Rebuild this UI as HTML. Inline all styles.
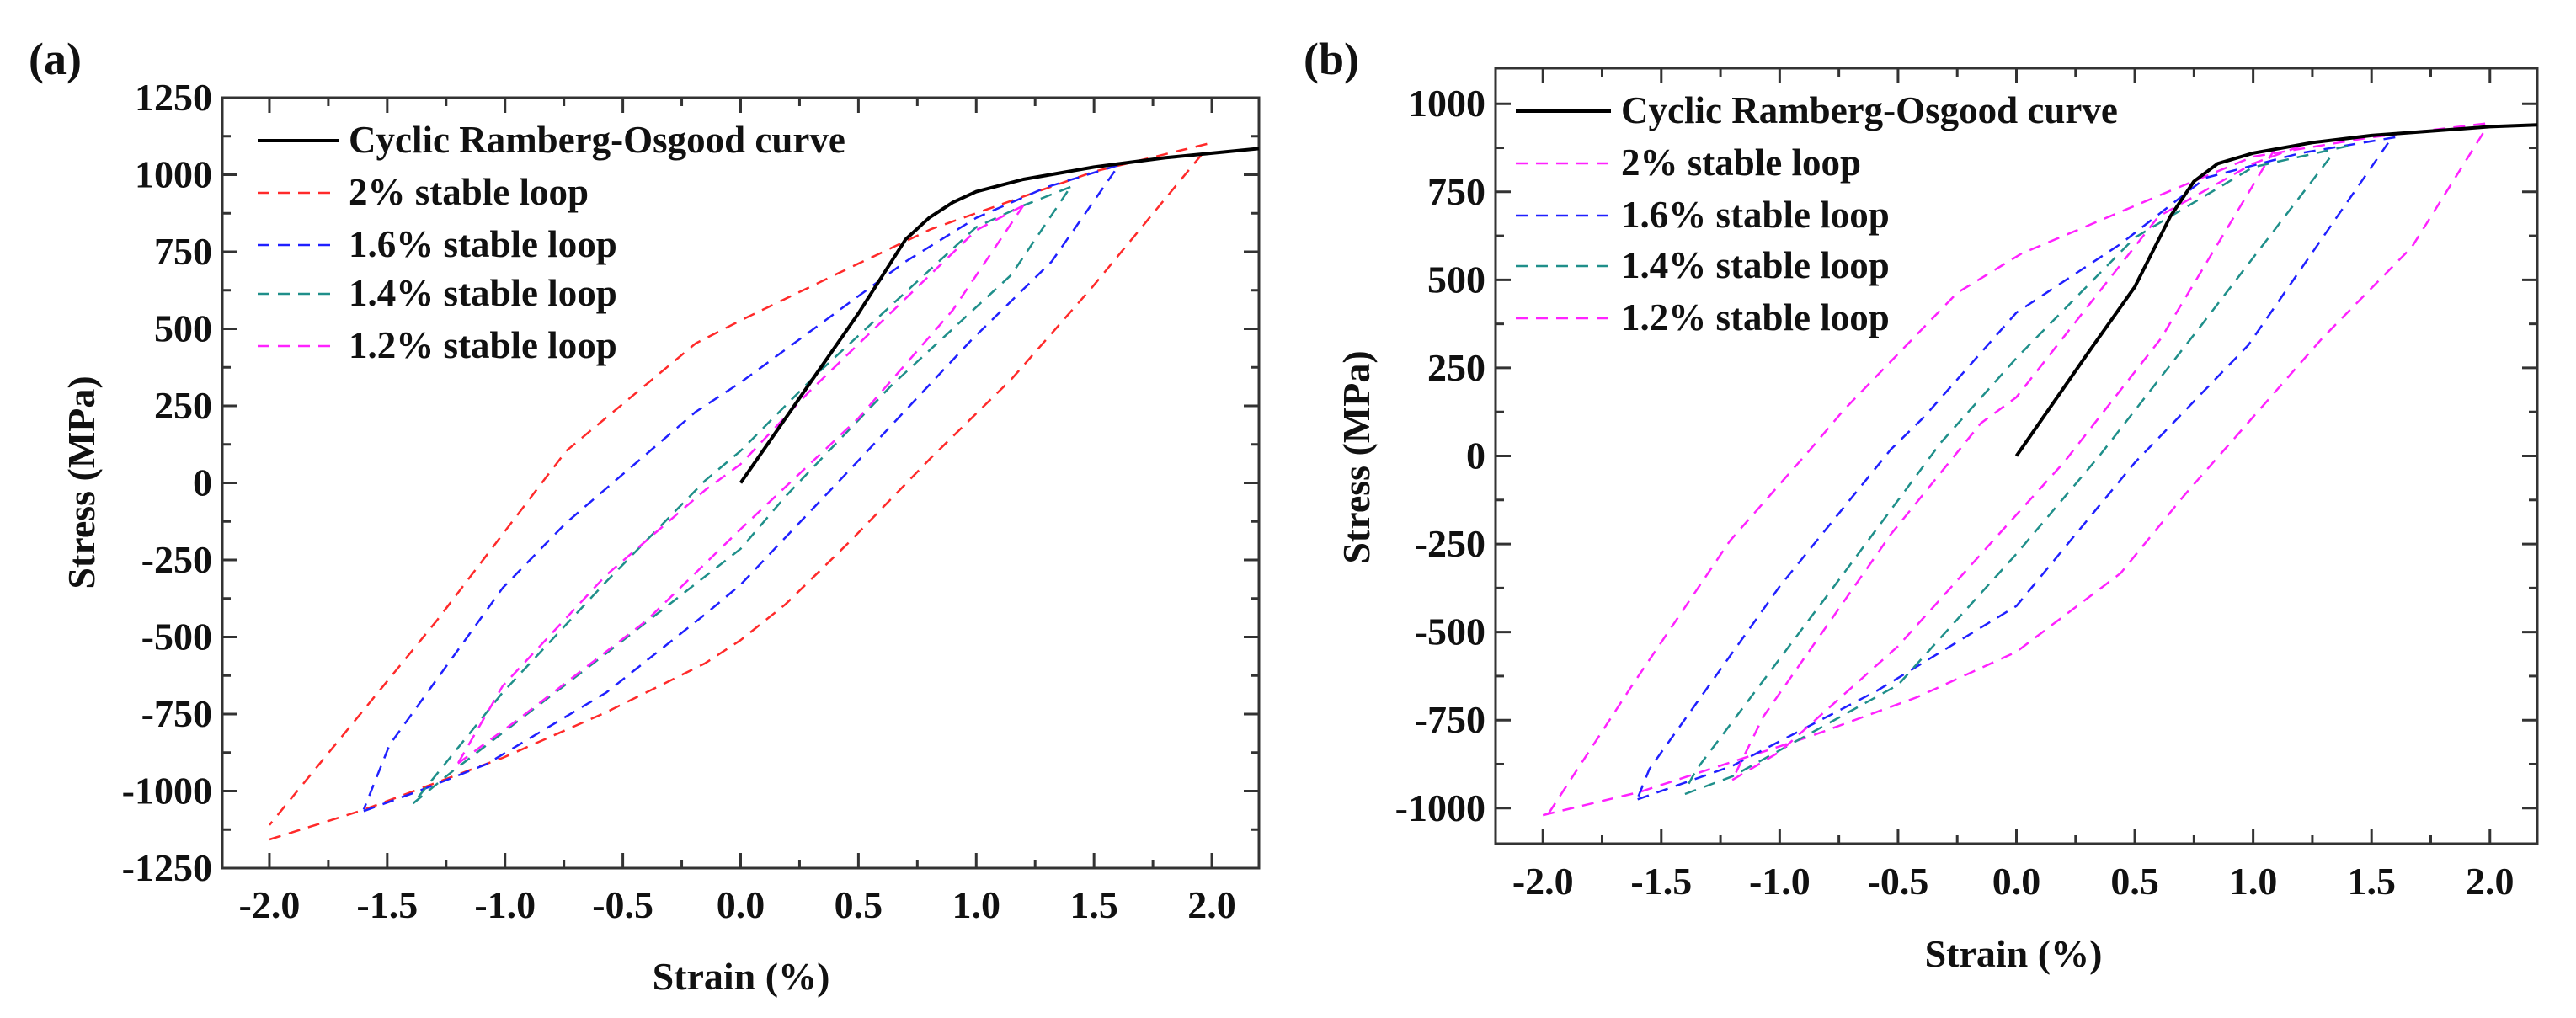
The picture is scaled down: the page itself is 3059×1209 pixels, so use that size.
<!DOCTYPE html>
<html><head><meta charset="utf-8"><style>
html,body{margin:0;padding:0;background:#fff;width:3059px;height:1209px;overflow:hidden}
svg text{font-family:"Liberation Serif",serif;font-weight:bold;fill:#111}
</style></head><body>
<svg id="fig" width="3059" height="1209" xmlns="http://www.w3.org/2000/svg"></svg>
<script>
// ---------- Panel (a) data ----------
const aCurveX=[0,0.3,0.5,0.7,0.8,0.9,1.0,1.2,1.5,1.8,2.2];
const aCurveY=[0,330,550,790,860,910,945,985,1025,1055,1085];
const a2UpX=[1.98,1.5,0.81,0.46,0,-0.19,-0.74,-1.29,-2.0];
const a2UpY=[1100,1010,824,697,527,453,104,-447,-1110];
const a2LoX=[-2,-1.6,-1.01,-0.57,-0.15,0,0.19,0.46,0.81,1.15,1.49,1.97];
const a2LoY=[-1157,-1061,-892,-744,-585,-510,-394,-193,83,337,633,1078];
const a16UpX=[1.6,1.3,1.0,0.7,0,-0.19,-0.74,-1.01,-1.49,-1.6];
const a16UpY=[1030,960,860,718,326,231,-129,-341,-850,-1060];
const a16LoX=[-1.6,-1.36,-1.08,-0.57,-0.15,0,0.46,0.98,1.32,1.6];
const a16LoY=[-1065,-998,-913,-680,-426,-330,40,464,718,1025];
const a14UpX=[1.4,1.2,1.0,0.33,0,-0.15,-0.57,-1.01,-1.39];
const a14UpY=[960,900,830,358,104,8,-320,-680,-1040];
const a14LoX=[-1.39,-1.22,-0.57,0,0.19,0.64,1.15,1.4];
const a14LoY=[-1040,-934,-553,-214,-44,316,676,960];
const a12UpX=[1.2,1.0,0.29,0,-0.15,-0.57,-1.01,-1.2];
const a12UpY=[900,820,295,61,-23,-299,-659,-910];
const a12LoX=[-1.2,-0.94,-0.4,0,0.5,0.9,1.2];
const a12LoY=[-910,-765,-447,-150,210,560,900];
// ---------- Panel (b) data ----------
const bCurveX=[0,0.3,0.5,0.65,0.75,0.85,1.0,1.25,1.5,2.0,2.2];
const bCurveY=[0,290,480,680,780,830,860,890,910,935,940];
const b2UpX=[1.98,1.5,1.0,0.64,0.02,-0.25,-0.73,-0.87,-1.21,-1.62,-1.98];
const b2UpY=[944,905,850,750,574,463,130,19,-241,-648,-1019];
const b2LoX=[-2,-1.59,-0.87,-0.42,0,0.44,0.71,0.88,1.29,1.67,1.98];
const b2LoY=[-1020,-954,-796,-685,-556,-333,-111,19,333,593,926];
const b16UpX=[1.6,1.2,0.8,0.44,0,-0.39,-0.53,-1.0,-1.55,-1.6];
const b16UpY=[905,860,790,602,407,111,19,-370,-889,-972];
const b16LoX=[-1.6,-1.2,-0.59,0,0.5,0.98,1.57];
const b16LoY=[-975,-880,-667,-426,-19,315,889];
const b14UpX=[1.4,1.0,0.5,0,-0.32,-0.77,-1.35,-1.4];
const b14UpY=[880,820,620,278,37,-370,-889,-950];
const b14LoX=[-1.4,-1.2,-0.5,0,0.35,0.78,1.33];
const b14LoY=[-960,-910,-650,-278,0,370,852];
const b12UpX=[1.2,1.0,0.6,0,-0.15,-0.53,-1.07,-1.2];
const b12UpY=[880,830,680,167,93,-222,-741,-920];
const b12LoX=[-1.2,-1.0,-0.5,0,0.2,0.61,1.09];
const b12LoY=[-920,-840,-540,-167,-19,333,870];
const xTickLabels=["-2.0","-1.5","-1.0","-0.5","0.0","0.5","1.0","1.5","2.0"];
const aYTicks=[-1250,-1000,-750,-500,-250,0,250,500,750,1000,1250];
const bYTicks=[-1000,-750,-500,-250,0,250,500,750,1000];
const legendLabels=["Cyclic Ramberg-Osgood curve","2% stable loop","1.6% stable loop","1.4% stable loop","1.2% stable loop"];

const NS="http://www.w3.org/2000/svg";
const svg=document.getElementById('fig');
function mk(tag,attrs,parent){const e=document.createElementNS(NS,tag);for(const k in attrs)e.setAttribute(k,attrs[k]);(parent||svg).appendChild(e);return e;}

function panel(cfg){
  const g=mk('g',{});
  
  
  const sx=v=>cfg.x0+(v-cfg.xmin)/(cfg.xmax-cfg.xmin)*(cfg.x1-cfg.x0);
  const sy=v=>cfg.y1-(v-cfg.ymin)/(cfg.ymax-cfg.ymin)*(cfg.y1-cfg.y0);
  const xt=[];for(let i=-4;i<=4;i++)xt.push(i*0.5);
  xt.forEach((v,i)=>{
    const X=sx(v);
    mk('line',{x1:X,x2:X,y1:cfg.y1,y2:cfg.y1-18,stroke:'#333','stroke-width':3},g);
    mk('line',{x1:X,x2:X,y1:cfg.y0,y2:cfg.y0+18,stroke:'#333','stroke-width':3},g);
    const Xm=sx(v+0.25);
    if(v+0.25<cfg.xmax){mk('line',{x1:Xm,x2:Xm,y1:cfg.y1,y2:cfg.y1-10,stroke:'#333','stroke-width':3},g);
    mk('line',{x1:Xm,x2:Xm,y1:cfg.y0,y2:cfg.y0+10,stroke:'#333','stroke-width':3},g);}
    const t=mk('text',{x:X,y:cfg.xLabY,'text-anchor':'middle','font-size':46},g);
    t.textContent=xTickLabels[i];
    
    
  });
  cfg.yt.forEach(v=>{
    const Y=sy(v);
    mk('line',{x1:cfg.x0,x2:cfg.x0+18,y1:Y,y2:Y,stroke:'#333','stroke-width':3},g);
    mk('line',{x1:cfg.x1,x2:cfg.x1-18,y1:Y,y2:Y,stroke:'#333','stroke-width':3},g);
    const Ym=sy(v+125);
    if(v+125<cfg.ymax){mk('line',{x1:cfg.x0,x2:cfg.x0+10,y1:Ym,y2:Ym,stroke:'#333','stroke-width':3},g);
    mk('line',{x1:cfg.x1,x2:cfg.x1-10,y1:Ym,y2:Ym,stroke:'#333','stroke-width':3},g);}
    const t=mk('text',{x:cfg.x0-12,y:Y+15,'text-anchor':'end','font-size':46},g);
    t.textContent=String(v);
    
    
  });
  mk('rect',{x:cfg.x0,y:cfg.y0,width:cfg.x1-cfg.x0,height:cfg.y1-cfg.y0,fill:'none',stroke:'#333','stroke-width':3},g);
  cfg.series.forEach(s=>{
    const pts=s.xs.map((x,i)=>sx(x).toFixed(1)+','+sy(s.ys[i]).toFixed(1)).join(' ');
    const p=mk('polyline',{points:pts,fill:'none',stroke:s.color,'stroke-width':s.dash?2.5:4,'stroke-dasharray':s.dash?'14 10':'none','stroke-linejoin':'round'},g);
    
    
  });
  const lg=mk('g',{},g);
  
  
  cfg.legColors.forEach((c,i)=>{
    const Y=cfg.legY[i];
    mk('line',{x1:cfg.legX0,x2:cfg.legX1,y1:Y,y2:Y,stroke:c,'stroke-width':i?2.5:4,'stroke-dasharray':i?'14 10':'none'},lg);
    const t=mk('text',{x:cfg.legX1+12,y:Y+14,'font-size':45},lg);
    t.textContent=legendLabels[i];
    
    
  });
  const xtit=mk('text',{x:cfg.xTitX,y:cfg.xTitY,'text-anchor':'middle','font-size':46},g);
  xtit.textContent=cfg.xTitle;
  
  
  const ytit=mk('text',{x:0,y:0,'text-anchor':'middle','font-size':46,transform:`translate(${cfg.yTitX},${cfg.yTitY}) rotate(-90)`},g);
  ytit.textContent='Stress (MPa)';
  
  
  const pl=mk('text',{x:cfg.labX,y:cfg.labY,'font-size':54},g);
  pl.textContent=cfg.label;
  
  
}
const R='#ff2a2a',B='#2020ff',T='#1f8f8a',M='#ff22ff';
panel({name:'panel-a',x0:264,x1:1495,y0:116,y1:1031,xmin:-2.2,xmax:2.2,ymin:-1250,ymax:1250,yt:aYTicks,
 xLabY:1090,series:[
  {name:'a-2pct-upper',xs:a2UpX,ys:a2UpY,color:R,dash:1},{name:'a-2pct-lower',xs:a2LoX,ys:a2LoY,color:R,dash:1},
  {name:'a-1.6pct-upper',xs:a16UpX,ys:a16UpY,color:B,dash:1},{name:'a-1.6pct-lower',xs:a16LoX,ys:a16LoY,color:B,dash:1},
  {name:'a-1.4pct-upper',xs:a14UpX,ys:a14UpY,color:T,dash:1},{name:'a-1.4pct-lower',xs:a14LoX,ys:a14LoY,color:T,dash:1},
  {name:'a-1.2pct-upper',xs:a12UpX,ys:a12UpY,color:M,dash:1},{name:'a-1.2pct-lower',xs:a12LoX,ys:a12LoY,color:M,dash:1},
  {name:'a-ramberg-osgood-curve',xs:aCurveX,ys:aCurveY,color:'#000',dash:0}],
 legColors:['#000',R,B,T,M],legY:[167,229,291,349,411],legX0:306,legX1:402,
 xTitle:'Strain  (%)',xTitX:880,xTitY:1175,yTitX:112,yTitY:573,label:'(a)',labX:34,labY:88});
panel({name:'panel-b',x0:1776,x1:3013,y0:81,y1:1002,xmin:-2.2,xmax:2.2,ymin:-1101,ymax:1101,yt:bYTicks,
 xLabY:1062,series:[
  {name:'b-2pct-upper',xs:b2UpX,ys:b2UpY,color:M,dash:1},{name:'b-2pct-lower',xs:b2LoX,ys:b2LoY,color:M,dash:1},
  {name:'b-1.6pct-upper',xs:b16UpX,ys:b16UpY,color:B,dash:1},{name:'b-1.6pct-lower',xs:b16LoX,ys:b16LoY,color:B,dash:1},
  {name:'b-1.4pct-upper',xs:b14UpX,ys:b14UpY,color:T,dash:1},{name:'b-1.4pct-lower',xs:b14LoX,ys:b14LoY,color:T,dash:1},
  {name:'b-1.2pct-upper',xs:b12UpX,ys:b12UpY,color:M,dash:1},{name:'b-1.2pct-lower',xs:b12LoX,ys:b12LoY,color:M,dash:1},
  {name:'b-ramberg-osgood-curve',xs:bCurveX,ys:bCurveY,color:'#000',dash:0}],
 legColors:['#000',M,B,T,M],legY:[132,194,256,316,378],legX0:1800,legX1:1913,
 xTitle:'Strain (%)',xTitX:2391,xTitY:1148,yTitX:1626,yTitY:543,label:'(b)',labX:1548,labY:88});
</script>
</body></html>
